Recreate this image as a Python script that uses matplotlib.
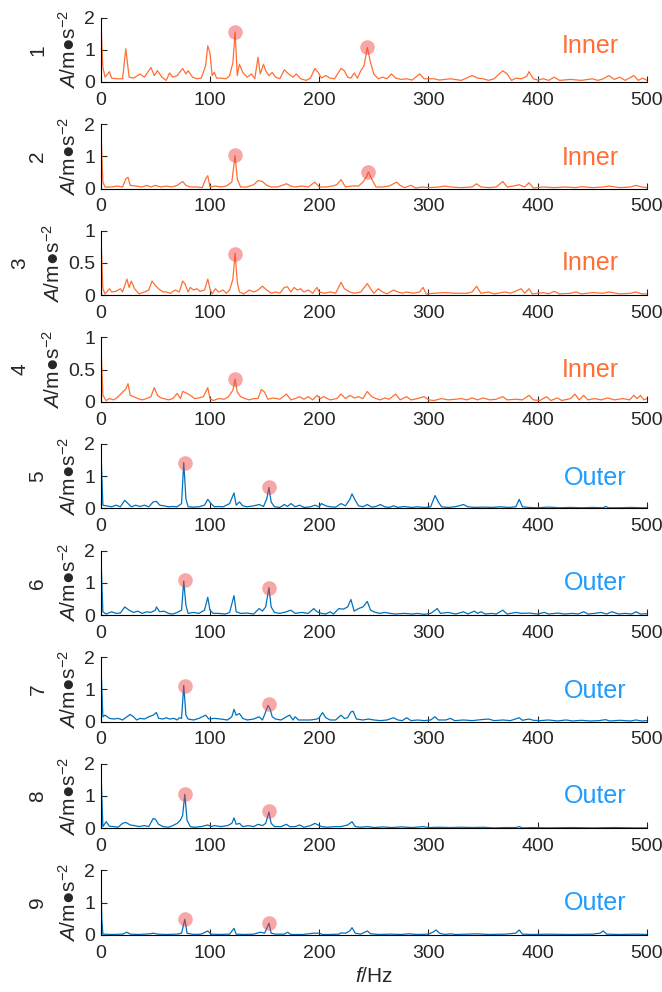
import matplotlib
matplotlib.use("Agg")
import matplotlib.pyplot as plt

plt.rcParams['font.family'] = ['Liberation Sans', 'DejaVu Sans']
plt.rcParams['mathtext.fontset'] = 'custom'
plt.rcParams['mathtext.rm'] = 'Liberation Sans'
plt.rcParams['mathtext.it'] = 'Liberation Sans:italic'
plt.rcParams['mathtext.fallback'] = 'stixsans'

# ---------------- data ----------------
f1 = [0,2,4,8,10,15,20,23,26,30,36,40,43,46,49,52,56,60,63,66,70,75,78,80,84,88,92,96,98,100,102,104,106,110,115,118,121,123,125,127,130,134,138,141,144,146,149,151,154,157,160,164,168,172,176,179,183,188,192,196,199,202,206,210,214,220,223,226,229,232,235,238,241,244,247,250,254,258,262,266,270,275,280,285,292,296,300,305,310,320,330,340,345,350,355,360,368,372,376,380,385,390,392,396,400,405,410,415,420,430,440,450,455,460,465,470,475,480,488,492,496,500]
a1 = [2.0,0.45,0.15,0.32,0.12,0.1,0.1,1.03,0.15,0.12,0.25,0.15,0.3,0.45,0.2,0.35,0.15,0.05,0.28,0.15,0.2,0.42,0.25,0.35,0.15,0.1,0.12,0.5,1.12,0.9,0.2,0.3,0.12,0.12,0.1,0.2,0.6,1.55,0.2,0.55,0.3,0.15,0.25,0.1,0.77,0.25,0.55,0.35,0.2,0.3,0.15,0.1,0.38,0.25,0.15,0.25,0.1,0.05,0.12,0.42,0.3,0.12,0.2,0.12,0.1,0.42,0.35,0.15,0.12,0.28,0.12,0.35,0.5,1.07,0.6,0.25,0.1,0.15,0.1,0.25,0.12,0.08,0.1,0.06,0.25,0.1,0.1,0.1,0.06,0.1,0.05,0.2,0.12,0.1,0.05,0.1,0.35,0.25,0.05,0.12,0.1,0.18,0.32,0.1,0.06,0.1,0.05,0.15,0.05,0.08,0.05,0.1,0.05,0.1,0.2,0.08,0.15,0.05,0.2,0.05,0.12,0.05]

f2 = [0,2,4,10,15,20,23,25,27,32,38,42,46,50,55,60,65,70,75,78,82,88,93,96,98,100,105,110,115,120,123,125,128,134,140,144,148,152,156,162,170,174,178,184,190,196,200,206,212,216,220,224,230,236,240,243,245,248,252,258,264,268,271,274,278,284,288,295,300,310,315,320,330,340,344,348,355,362,368,372,378,383,388,392,396,405,415,425,435,440,450,460,465,475,485,490,495,500]
a2 = [2.0,0.2,0.05,0.05,0.08,0.05,0.3,0.35,0.1,0.08,0.05,0.1,0.05,0.1,0.05,0.08,0.05,0.1,0.22,0.1,0.05,0.05,0.03,0.3,0.4,0.05,0.08,0.05,0.08,0.2,1.02,0.3,0.05,0.05,0.12,0.25,0.22,0.1,0.05,0.05,0.15,0.08,0.05,0.08,0.05,0.2,0.05,0.05,0.08,0.12,0.28,0.05,0.08,0.08,0.2,0.35,0.52,0.3,0.05,0.05,0.08,0.15,0.2,0.1,0.03,0.1,0.02,0.05,0.03,0.05,0.08,0.05,0.03,0.05,0.15,0.05,0.03,0.05,0.22,0.05,0.08,0.12,0.05,0.18,0.02,0.05,0.03,0.05,0.03,0.06,0.03,0.05,0.08,0.03,0.05,0.1,0.05,0.03]

f3 = [0,2,4,8,10,14,18,20,24,26,28,31,35,40,44,47,50,53,57,60,64,68,72,75,77,80,82,85,88,91,95,98,100,102,105,108,112,115,118,121,123,125,127,131,136,140,144,148,152,156,160,164,168,171,174,177,180,183,186,190,194,198,200,205,210,215,220,223,228,232,238,244,247,250,254,258,262,268,272,276,280,286,292,295,298,305,315,325,335,340,344,348,355,360,370,375,385,388,392,395,405,410,415,420,430,435,440,450,460,465,475,485,490,495,500]
a3 = [1.0,0.1,0.02,0.1,0.05,0.06,0.1,0.05,0.25,0.12,0.22,0.1,0.02,0.05,0.08,0.22,0.15,0.1,0.05,0.05,0.03,0.08,0.05,0.22,0.18,0.05,0.12,0.08,0.1,0.06,0.08,0.25,0.1,0.02,0.1,0.05,0.08,0.03,0.08,0.25,0.65,0.2,0.05,0.02,0.08,0.05,0.08,0.14,0.08,0.03,0.05,0.03,0.12,0.13,0.05,0.12,0.08,0.1,0.05,0.08,0.03,0.12,0.05,0.03,0.05,0.03,0.2,0.1,0.05,0.03,0.05,0.18,0.1,0.03,0.1,0.05,0.02,0.08,0.05,0.03,0.05,0.03,0.05,0.12,0.02,0.03,0.04,0.03,0.03,0.05,0.14,0.03,0.05,0.02,0.05,0.03,0.1,0.03,0.1,0.02,0.04,0.02,0.06,0.02,0.03,0.05,0.02,0.04,0.03,0.05,0.02,0.03,0.05,0.02,0.02]

f4 = [0,2,5,8,12,16,20,23,25,27,30,34,38,42,46,49,52,55,58,62,66,70,73,75,78,82,86,90,94,98,100,103,108,113,117,121,123,125,128,132,136,140,144,147,150,153,158,164,170,174,178,182,186,190,194,198,201,204,210,216,220,224,228,232,236,240,244,248,252,256,260,264,270,274,280,284,290,296,300,305,312,318,325,330,335,340,345,350,356,362,368,372,380,386,392,396,402,408,412,418,422,430,434,438,442,446,452,458,464,470,478,484,488,491,494,497,500]
a4 = [1.0,0.1,0.02,0.05,0.03,0.08,0.15,0.2,0.28,0.1,0.08,0.05,0.03,0.05,0.08,0.22,0.1,0.06,0.05,0.03,0.05,0.13,0.05,0.16,0.14,0.1,0.05,0.06,0.08,0.22,0.05,0.02,0.05,0.04,0.08,0.18,0.35,0.15,0.08,0.05,0.03,0.05,0.05,0.19,0.15,0.04,0.06,0.04,0.12,0.03,0.05,0.08,0.04,0.08,0.03,0.1,0.05,0.08,0.03,0.05,0.12,0.05,0.1,0.06,0.08,0.05,0.16,0.08,0.05,0.03,0.06,0.04,0.12,0.03,0.08,0.03,0.05,0.08,0.03,0.02,0.05,0.03,0.04,0.05,0.03,0.06,0.03,0.06,0.03,0.04,0.08,0.03,0.04,0.03,0.1,0.03,0.02,0.08,0.02,0.06,0.02,0.05,0.12,0.03,0.1,0.03,0.05,0.03,0.06,0.03,0.05,0.03,0.1,0.05,0.1,0.03,0.05]

f5 = [0,2,5,10,14,18,22,25,28,32,36,40,44,48,51,54,58,62,66,70,74,76,78,80,84,90,95,98,101,104,108,112,118,122,124,127,130,134,140,145,149,152,154,156,159,164,168,171,174,178,182,186,192,196,200,202,206,210,215,220,224,228,230,233,236,240,244,248,252,256,260,264,268,272,278,284,290,296,302,306,309,312,318,324,328,332,336,342,350,358,366,374,380,383,386,392,400,410,420,430,440,450,460,462,465,475,485,495,500]
a5 = [2.0,0.1,0.08,0.05,0.1,0.05,0.25,0.15,0.05,0.1,0.06,0.1,0.05,0.2,0.22,0.1,0.08,0.05,0.06,0.05,0.15,1.42,0.3,0.05,0.04,0.05,0.1,0.28,0.15,0.05,0.06,0.05,0.15,0.48,0.1,0.2,0.08,0.05,0.08,0.12,0.06,0.3,0.65,0.2,0.05,0.03,0.12,0.06,0.15,0.05,0.1,0.03,0.05,0.1,0.05,0.15,0.08,0.05,0.04,0.15,0.08,0.28,0.45,0.25,0.08,0.05,0.12,0.04,0.06,0.12,0.05,0.03,0.08,0.03,0.06,0.03,0.05,0.03,0.05,0.4,0.2,0.05,0.03,0.05,0.08,0.12,0.05,0.03,0.04,0.03,0.05,0.03,0.05,0.28,0.05,0.03,0.02,0.04,0.02,0.03,0.02,0.03,0.02,0.06,0.02,0.02,0.03,0.02,0.02]

f6 = [0,2,5,10,14,18,22,26,30,34,38,42,46,50,51,54,58,62,66,70,74,76,78,80,85,90,95,98,100,103,108,114,118,122,124,128,134,140,145,148,151,154,156,159,164,170,174,178,184,190,195,198,202,206,210,213,218,222,226,229,232,236,240,244,247,250,255,260,265,270,278,285,290,296,302,305,308,311,318,325,332,336,342,345,348,352,358,362,368,372,380,385,392,400,406,410,418,425,432,437,442,446,452,458,463,468,474,480,486,490,494,500]
a6 = [2.0,0.1,0.03,0.1,0.05,0.06,0.25,0.15,0.08,0.12,0.05,0.1,0.08,0.15,0.25,0.1,0.12,0.05,0.03,0.08,0.15,1.05,0.3,0.05,0.08,0.05,0.15,0.55,0.15,0.05,0.05,0.03,0.08,0.6,0.1,0.05,0.06,0.03,0.2,0.12,0.25,0.85,0.25,0.08,0.05,0.1,0.15,0.05,0.08,0.05,0.2,0.1,0.05,0.03,0.1,0.03,0.2,0.18,0.25,0.48,0.12,0.2,0.25,0.42,0.15,0.1,0.05,0.08,0.05,0.03,0.05,0.03,0.05,0.02,0.05,0.12,0.2,0.05,0.08,0.03,0.1,0.03,0.12,0.05,0.1,0.03,0.05,0.03,0.15,0.03,0.08,0.05,0.06,0.03,0.08,0.03,0.06,0.03,0.05,0.03,0.1,0.03,0.05,0.08,0.03,0.1,0.03,0.05,0.03,0.1,0.03,0.04]

f7 = [0,2,4,8,12,16,20,24,27,30,33,36,40,44,48,51,53,57,60,63,67,70,72,74,76,78,80,85,90,93,96,99,104,110,116,120,122,124,127,130,134,140,145,148,151,153,155,157,160,165,170,173,176,178,181,186,192,198,200,203,206,210,215,220,223,226,229,231,234,240,245,250,256,262,268,272,276,280,284,290,296,302,306,309,316,320,324,332,340,348,355,360,368,375,383,386,392,396,402,410,418,426,432,440,448,456,462,466,475,485,490,495,500]
a7 = [2.0,0.15,0.2,0.1,0.08,0.1,0.05,0.15,0.22,0.15,0.05,0.1,0.08,0.15,0.2,0.28,0.1,0.08,0.12,0.08,0.1,0.05,0.12,0.1,1.12,0.2,0.08,0.05,0.1,0.15,0.2,0.08,0.1,0.08,0.05,0.15,0.38,0.2,0.25,0.1,0.05,0.08,0.15,0.05,0.3,0.5,0.4,0.15,0.08,0.05,0.15,0.2,0.05,0.15,0.05,0.05,0.05,0.08,0.12,0.28,0.12,0.05,0.05,0.2,0.1,0.12,0.3,0.32,0.08,0.05,0.08,0.05,0.03,0.05,0.12,0.05,0.03,0.12,0.03,0.05,0.03,0.05,0.15,0.05,0.05,0.1,0.03,0.05,0.03,0.06,0.08,0.03,0.05,0.03,0.12,0.04,0.08,0.04,0.03,0.05,0.02,0.05,0.02,0.04,0.02,0.03,0.06,0.02,0.04,0.02,0.05,0.02,0.03]

f8 = [0,2,5,8,12,16,20,23,27,31,35,40,44,48,50,53,57,62,66,70,73,75,77,79,82,86,92,98,101,104,110,116,120,122,124,127,130,135,140,144,148,151,154,156,159,165,170,173,178,182,186,192,196,199,202,208,214,220,226,230,233,238,244,250,258,266,275,285,295,300,310,320,330,340,350,360,370,380,383,386,395,410,430,450,470,490,500]
a8 = [2.0,0.05,0.2,0.06,0.05,0.03,0.15,0.18,0.1,0.08,0.05,0.08,0.05,0.3,0.28,0.12,0.05,0.03,0.08,0.15,0.25,0.4,1.05,0.25,0.05,0.03,0.05,0.1,0.05,0.08,0.05,0.08,0.15,0.32,0.12,0.15,0.05,0.08,0.05,0.12,0.08,0.15,0.5,0.15,0.05,0.05,0.12,0.05,0.05,0.1,0.03,0.08,0.15,0.1,0.05,0.03,0.05,0.05,0.1,0.2,0.05,0.03,0.05,0.02,0.04,0.02,0.04,0.02,0.05,0.02,0.03,0.02,0.03,0.02,0.03,0.01,0.02,0.02,0.05,0.01,0.02,0.01,0.02,0.01,0.02,0.01,0.01]

f9 = [0,1,2,10,20,24,27,35,45,48,52,60,70,74,77,79,85,92,98,101,110,118,122,124,130,140,146,150,154,156,160,168,171,174,185,195,200,203,210,218,220,224,228,230,233,238,244,247,255,265,275,282,290,300,304,307,310,315,320,325,335,345,355,370,380,383,386,395,410,430,450,457,460,463,475,490,500]
a9 = [2.0,0.5,0.02,0.01,0.02,0.08,0.02,0.01,0.03,0.05,0.02,0.01,0.02,0.05,0.48,0.05,0.01,0.02,0.12,0.02,0.01,0.02,0.2,0.02,0.01,0.02,0.08,0.05,0.36,0.05,0.02,0.02,0.08,0.01,0.01,0.05,0.05,0.01,0.01,0.02,0.06,0.05,0.12,0.22,0.05,0.02,0.12,0.03,0.01,0.02,0.01,0.03,0.01,0.02,0.08,0.15,0.05,0.01,0.03,0.01,0.02,0.03,0.01,0.02,0.05,0.15,0.02,0.01,0.02,0.01,0.02,0.05,0.12,0.02,0.01,0.02,0.01]

freqs = [f1, f2, f3, f4, f5, f6, f7, f8, f9]
amps = [a1, a2, a3, a4, a5, a6, a7, a8, a9]

# highlighted fault peaks (frequency, amplitude)
peak_f = [[123, 244], [123, 245], [123], [123], [77, 154], [77, 154], [77, 154], [77, 154], [77, 154]]
peak_a = [[1.55, 1.07], [1.03, 0.52], [0.64], [0.36], [1.42, 0.65], [1.07, 0.83], [1.1, 0.55], [1.05, 0.52], [0.48, 0.38]]

fault_type = ['Inner'] * 4 + ['Outer'] * 5
sample_ids = ['1', '2', '3', '4', '5', '6', '7', '8', '9']
y_max = [2, 2, 1, 1, 2, 2, 2, 2, 2]
x_ticks = [0, 100, 200, 300, 400, 500]

# ---------------- styling ----------------
line_col = {'Inner': '#FF6F33', 'Outer': '#0072BD'}
text_col = {'Inner': '#FF6F33', 'Outer': '#1E9BFF'}
text_x = {'Inner': 0.896, 'Outer': 0.905}
text_y = [0.56, 0.48, 0.5, 0.5, 0.47, 0.5, 0.47, 0.5, 0.5]
ink = '#262626'

W, H = 662, 992
fig = plt.figure(figsize=(W / 100, H / 100), dpi=100)

left = 100.7 / W
width = (647 - 100.7) / W
ax_h = 64.5 / H

for i in range(9):
    bottom_px = 82 + 106.6 * i
    ax = fig.add_axes([left, 1 - bottom_px / H, width, ax_h])
    kind = fault_type[i]
    ax.plot(freqs[i], amps[i], color=line_col[kind], lw=0.9)
    ax.plot(peak_f[i], peak_a[i], 'o', ms=10.5, color='#F03C3C', alpha=0.45,
            mec='none', zorder=3, clip_on=False)
    ax.set_xlim(0, 500)
    ax.set_ylim(0, y_max[i])
    ax.set_xticks(x_ticks)
    if y_max[i] == 2:
        ax.set_yticks([0, 1, 2])
        ax.set_yticklabels(['0', '1', '2'])
        num_x = -0.115
    else:
        ax.set_yticks([0, 0.5, 1])
        ax.set_yticklabels(['0', '0.5', '1'])
        num_x = -0.148
    for s in ['top', 'right']:
        ax.spines[s].set_visible(False)
    for s in ['left', 'bottom']:
        ax.spines[s].set_linewidth(0.8)
    ax.tick_params(direction='in', length=4, width=0.8, labelsize=14,
                   colors=ink)
    ax.tick_params(axis='y', pad=4)
    ax.tick_params(axis='x', pad=7)
    ax.set_ylabel(r'$\mathit{A}$/m●s$^{\mathrm{-2}}$', fontsize=15, labelpad=3,
                  color=ink)
    ax.text(num_x, 0.5, sample_ids[i], transform=ax.transAxes, rotation=90,
            ha='center', va='center', fontsize=15, color=ink)
    ax.text(text_x[kind], text_y[i], kind, transform=ax.transAxes, ha='center',
            va='center', fontsize=18, color=text_col[kind])
    if i == 8:
        ax.set_xlabel(r'$\mathit{f}$/Hz', fontsize=15, color=ink, labelpad=4)

fig.savefig('out.png', dpi=100)
